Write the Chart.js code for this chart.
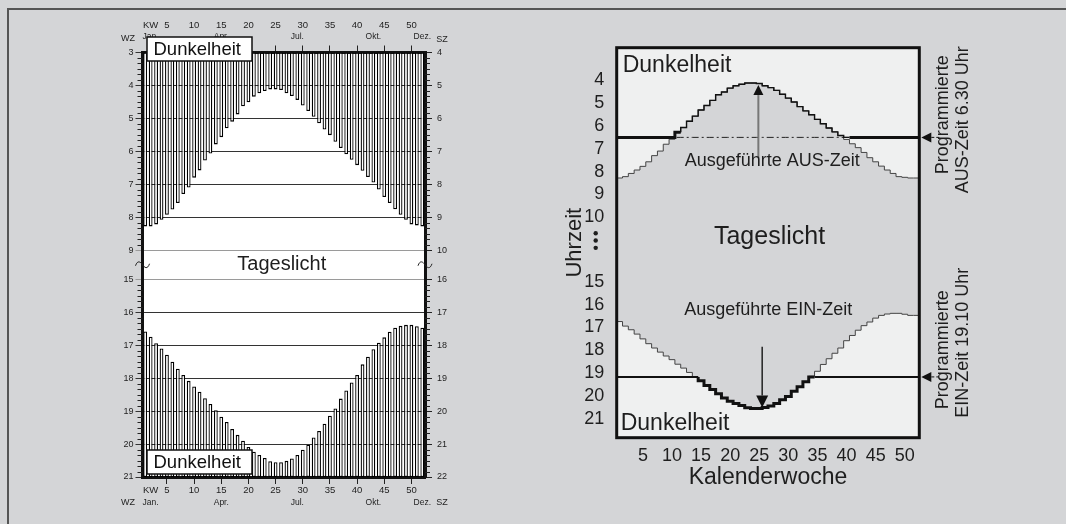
<!DOCTYPE html>
<html>
<head>
<meta charset="utf-8">
<script src="https://cdn.jsdelivr.net/npm/chart.js@4.4.1/dist/chart.umd.min.js"></script>
<style>
  html, body { margin: 0; padding: 0; overflow: hidden; }
  body { width: 1066px; height: 524px; background: #d4d5d7; position: relative; overflow: hidden; }
  #frameTop { position: absolute; left: 7px; top: 8px; width: 1059px; height: 0; border-top: 2px solid #555; }
  #frameLeft { position: absolute; left: 7px; top: 8px; width: 0; height: 516px; border-left: 2px solid #555; }
  .panel { position: absolute; }
  #left { left: 90px; top: 10px; width: 380px; height: 510px; }
  #right { left: 560px; top: 20px; width: 430px; height: 480px; }
</style>
</head>
<body>
<div id="frameTop"></div>
<div id="frameLeft"></div>
<div class="panel" id="left"><canvas id="sunChart"></canvas></div>
<div class="panel" id="right"><canvas id="timerChart"></canvas></div>

<script>
// Kalenderwochen und Sonnenzeiten (Winterzeit, Stunden als Dezimalzahl)
const weeks = [1,2,3,4,5,6,7,8,9,10,11,12,13,14,15,16,17,18,19,20,21,22,23,24,25,26,
  27,28,29,30,31,32,33,34,35,36,37,38,39,40,41,42,43,44,45,46,47,48,49,50,51,52];
const sunrise = [8.28,8.28,8.22,8.08,7.93,7.77,7.57,7.30,7.10,6.80,6.58,6.28,6.07,5.79,5.57,5.30,
  5.10,4.88,4.63,4.51,4.34,4.24,4.17,4.12,4.12,4.14,4.24,4.32,4.44,4.61,4.78,4.95,5.15,5.34,5.51,
  5.71,5.90,6.09,6.26,6.42,6.59,6.78,6.95,7.16,7.39,7.57,7.76,7.93,8.08,8.22,8.25,8.28];
const sunset = [16.58,16.74,16.94,17.10,17.29,17.50,17.71,17.90,18.08,18.25,18.41,18.61,18.78,18.97,
  19.17,19.33,19.54,19.72,19.90,20.09,20.23,20.33,20.42,20.52,20.55,20.55,20.51,20.44,20.33,20.17,
  20.02,19.80,19.60,19.38,19.14,18.92,18.62,18.37,18.13,17.90,17.58,17.35,17.12,16.92,16.76,16.59,
  16.47,16.41,16.38,16.38,16.42,16.47];

// Achsenbeschriftungen
const hoursLeft = [3,4,5,6,7,8,9,15,16,17,18,19,20,21];      // WZ
const hoursRight = [4,5,6,7,8,9,10,15,16,17,18,19,20,21];    // rechtes Diagramm
const weekTicks = [5,10,15,20,25,30,35,40,45,50];
const months = ['Jan.','Apr.','Jul.','Okt.','Dez.'];
const monthWeeks = [2,15,29,43,52];

// Programmierte Schaltzeiten
const progAus = 6.5;          // 6.30 Uhr
const progEin = 19 + 10/60;   // 19.10 Uhr
const progAusWeeks = weeks.map(() => progAus);
const execAus = sunrise.map(v => Math.min(v, progAus));
const execEin = sunset.map(v => Math.max(v, progEin));

// Achsenunterbrechung zwischen 9/10 und 15 Uhr
const uL = h => h <= 12 ? h : h - 5.11;
const uR = h => h <= 12 ? h : h - 2.17;

const FONT = '"Liberation Sans", Arial, Helvetica, sans-serif';
Chart.defaults.font.family = FONT;
Chart.defaults.color = '#1e1e1e';
Chart.defaults.animation = false;
Chart.defaults.plugins.legend.display = false;
Chart.defaults.plugins.tooltip.enabled = false;

const weekLabel = i => weeks[i] === 2 ? 'KW' : (weekTicks.includes(weeks[i]) ? String(weeks[i]) : '');
const monthLabel = i => { const k = monthWeeks.indexOf(weeks[i]); return k >= 0 ? months[k] : ''; };
const tickColor = c => weekTicks.includes(weeks[c.index]) ? '#222' : 'rgba(0,0,0,0)';

// ---------- linkes Diagramm: Balken ----------
const leftDeco = {
  id: 'leftDeco',
  beforeDraw(chart) {
    const { ctx, chartArea: a } = chart;
    ctx.save();
    ctx.fillStyle = '#fff';
    ctx.fillRect(a.left, a.top, a.right - a.left, a.bottom - a.top);
    ctx.restore();
  },
  afterDraw(chart) {
    const { ctx, chartArea: a } = chart;
    const y = chart.scales.y;
    ctx.save();
    // 10-Minuten-Striche
    ctx.strokeStyle = '#222';
    ctx.lineWidth = 1;
    ctx.beginPath();
    [[3, 9], [15, 21]].forEach(([h0, h1]) => {
      for (let m = h0 * 6 + 1; m < h1 * 6; m++) {
        if (m % 6 === 0) continue;
        const py = Math.round(y.getPixelForValue(uL(m / 6))) + 0.5;
        ctx.moveTo(a.left - 5, py); ctx.lineTo(a.left, py);
        ctx.moveTo(a.right, py); ctx.lineTo(a.right + 5, py);
      }
    });
    ctx.stroke();

    // Unterbrechung
    const yb = (y.getPixelForValue(uL(9)) + y.getPixelForValue(uL(15))) / 2;
    [a.left, a.right].forEach(x => {
      ctx.beginPath();
      ctx.moveTo(x - 7, yb + 1);
      ctx.bezierCurveTo(x - 5, yb - 5, x - 2, yb - 3, x, yb);
      ctx.bezierCurveTo(x + 2, yb + 3, x + 5, yb + 5, x + 7, yb - 1);
      ctx.stroke();
    });

    ctx.fillStyle = '#1e1e1e';
    ctx.textAlign = 'center';
    ctx.textBaseline = 'middle';
    ctx.font = '9px ' + FONT;
    ctx.fillText('WZ', a.left - 14.5, a.top - 14);
    ctx.fillText('SZ', a.right + 17, a.top - 13);
    ctx.fillText('WZ', a.left - 14.5, a.bottom + 26);
    ctx.fillText('SZ', a.right + 17, a.bottom + 26);

    ctx.font = '20px ' + FONT;
    ctx.fillText('Tageslicht', (a.left + a.right) / 2 - 2, yb);

    [a.top - 15.5, a.bottom - 27].forEach(by => {
      ctx.fillStyle = '#fff';
      ctx.fillRect(a.left + 4.5, by, 105, 24);
      ctx.strokeStyle = '#111';
      ctx.lineWidth = 1.5;
      ctx.strokeRect(a.left + 4.5, by, 105, 24);
      ctx.fillStyle = '#111';
      ctx.font = '18.5px ' + FONT;
      ctx.textAlign = 'left';
      ctx.fillText('Dunkelheit', a.left + 11, by + 12.5);
    });
    ctx.restore();
  }
};

const barStyle = {
  backgroundColor: '#fff',
  borderColor: '#000',
  borderWidth: 1.3,
  borderSkipped: false,
  barPercentage: 0.7,
  categoryPercentage: 1,
  grouped: false
};

new Chart(document.getElementById('sunChart'), {
  type: 'bar',
  data: {
    labels: weeks.map(String),
    datasets: [
      Object.assign({ label: 'Dunkelheit morgens', data: sunrise.map(v => [uL(3), uL(v)]) }, barStyle),
      Object.assign({ label: 'Dunkelheit abends', data: sunset.map(v => [uL(v), uL(21)]) }, barStyle)
    ]
  },
  options: {
    responsive: true,
    maintainAspectRatio: false,
    layout: { padding: { left: 12.5, right: 5, top: 10.5, bottom: 11 } },
    scales: {
      x: {
        type: 'category', position: 'bottom', weight: 0, offset: true, z: 1,
        grid: { offset: false, drawOnChartArea: false, drawTicks: true, tickLength: 7, color: tickColor },
        border: { display: true, width: 3, color: '#111' },
        ticks: { autoSkip: false, maxRotation: 0, padding: 1, font: { size: 9.5 }, callback: (v, i) => weekLabel(i) },
        afterFit: s => { s.height = 20; }
      },
      xm: {
        type: 'category', position: 'bottom', weight: 1, offset: true,
        grid: { display: false, drawTicks: false }, border: { display: false },
        ticks: { autoSkip: false, maxRotation: 0, padding: 1, font: { size: 8.5 }, callback: (v, i) => monthLabel(i) },
        afterFit: s => { s.height = 12; }
      },
      xt: {
        type: 'category', position: 'top', weight: 0, offset: true, z: 1,
        grid: { offset: false, drawOnChartArea: false, drawTicks: true, tickLength: 7, color: tickColor },
        border: { display: true, width: 3, color: '#111' },
        ticks: { autoSkip: false, maxRotation: 0, padding: 4, font: { size: 8.5 }, callback: (v, i) => monthLabel(i) },
        afterFit: s => { s.height = 20; }
      },
      xtw: {
        type: 'category', position: 'top', weight: 1, offset: true,
        grid: { display: false, drawTicks: false }, border: { display: false },
        ticks: { autoSkip: false, maxRotation: 0, padding: 1, font: { size: 9.5 }, callback: (v, i) => weekLabel(i) },
        afterFit: s => { s.height = 12; }
      },
      y: {
        type: 'linear', position: 'left', reverse: true, min: uL(3), max: uL(21), z: 1,
        afterBuildTicks: s => { s.ticks = hoursLeft.map(h => ({ value: uL(h) })); },
        ticks: { padding: 2, font: { size: 9 }, callback: (v, i) => hoursLeft[i] },
        grid: {
          drawTicks: true, tickLength: 7, lineWidth: 1,
          color: c => (hoursLeft[c.index] === 9 || hoursLeft[c.index] === 15) ? '#9a9a9a' : '#333'
        },
        border: { width: 3, color: '#111' },
        afterFit: s => { s.width = 40; }
      },
      y2: {
        type: 'linear', position: 'right', reverse: true, min: uL(3), max: uL(21), z: 1,
        afterBuildTicks: s => { s.ticks = hoursLeft.map(h => ({ value: uL(h) })); },
        ticks: { padding: 5, font: { size: 9 }, callback: (v, i) => hoursLeft[i] + 1 },
        grid: { drawOnChartArea: false, drawTicks: true, tickLength: 7, color: '#222' },
        border: { width: 3, color: '#111' },
        afterFit: s => { s.width = 40; }
      }
    }
  },
  plugins: [leftDeco]
});

// ---------- rechtes Diagramm: Schaltzeiten ----------
const step = arr => weeks.map((w, i) => ({ x: w - 0.5, y: uR(arr[i]) }))
  .concat([{ x: weeks[weeks.length - 1] + 0.5, y: uR(arr[arr.length - 1]) }]);

const midWeek = (arr, val) => {
  const ws = weeks.filter((w, i) => arr[i] === val);
  return ws.reduce((s, w) => s + w, 0) / ws.length;
};

function arrow(ctx, x, y0, y1, color, width, head, half) {
  const d = Math.sign(y1 - y0);
  ctx.strokeStyle = color;
  ctx.lineWidth = width;
  ctx.beginPath();
  ctx.moveTo(x, y0);
  ctx.lineTo(x, y1 - d * head);
  ctx.stroke();
  ctx.fillStyle = '#111';
  ctx.beginPath();
  ctx.moveTo(x, y1);
  ctx.lineTo(x - half, y1 - d * head);
  ctx.lineTo(x + half, y1 - d * head);
  ctx.closePath();
  ctx.fill();
}

function vtext(ctx, text, cx, cy) {
  ctx.save();
  ctx.translate(cx, cy);
  ctx.rotate(-Math.PI / 2);
  ctx.fillText(text, 0, 0);
  ctx.restore();
}

const rightDeco = {
  id: 'rightDeco',
  beforeDraw(chart) {
    const { ctx, chartArea: a } = chart;
    ctx.save();
    ctx.fillStyle = '#eff0f0';
    ctx.fillRect(a.left, a.top, a.right - a.left, a.bottom - a.top);
    ctx.restore();
  },
  afterDatasetsDraw(chart) {
    const { ctx } = chart;
    const { x, y } = chart.scales;
    const minRise = Math.min(...sunrise);
    const maxSet = Math.max(...sunset);
    ctx.save();
    arrow(ctx, x.getPixelForValue(midWeek(sunrise, minRise)) + 2, y.getPixelForValue(uR(7.38)),
      y.getPixelForValue(uR(minRise)) + 2, '#777', 2, 10, 5);
    arrow(ctx, x.getPixelForValue(midWeek(sunset, maxSet)), y.getPixelForValue(uR(17.85)),
      y.getPixelForValue(uR(maxSet)) - 1, '#222', 1.5, 12, 6);
    ctx.restore();
  },
  afterDraw(chart) {
    const { ctx, chartArea: a } = chart;
    const y = chart.scales.y;
    ctx.save();
    ctx.strokeStyle = '#111';
    ctx.lineWidth = 3;
    ctx.strokeRect(a.left, a.top, a.right - a.left, a.bottom - a.top);

    // Pfeile der programmierten Zeiten
    [progAus, progEin].forEach(h => {
      const py = y.getPixelForValue(uR(h));
      ctx.fillStyle = '#111';
      ctx.beginPath();
      ctx.moveTo(a.right + 2, py);
      ctx.lineTo(a.right + 12, py - 5);
      ctx.lineTo(a.right + 12, py + 5);
      ctx.closePath();
      ctx.fill();
      ctx.lineWidth = 1;
      ctx.setLineDash([3, 2]);
      ctx.beginPath();
      ctx.moveTo(a.right + 12, py);
      ctx.lineTo(a.right + 21, py);
      ctx.stroke();
      ctx.setLineDash([]);
    });

    ctx.fillStyle = '#1e1e1e';
    ctx.textBaseline = 'middle';
    ctx.textAlign = 'center';
    ctx.font = '18px ' + FONT;
    vtext(ctx, 'Programmierte', a.right + 24.2, a.top + 67);
    vtext(ctx, 'AUS-Zeit 6.30 Uhr', a.right + 44.2, a.top + 72);
    vtext(ctx, 'Programmierte', a.right + 24.2, a.top + 302);
    vtext(ctx, 'EIN-Zeit 19.10 Uhr', a.right + 44.2, a.top + 295);

    ctx.font = '18px ' + FONT;
    ctx.fillText('Ausgeführte AUS-Zeit', a.left + 155.5, a.top + 113.5);
    ctx.fillText('Ausgeführte EIN-Zeit', a.left + 151.5, a.top + 262.5);

    ctx.font = '25px ' + FONT;
    ctx.fillText('Tageslicht', (a.left + a.right) / 2 + 1.5, a.top + 189);

    ctx.textAlign = 'left';
    ctx.font = '23px ' + FONT;
    ctx.fillText('Dunkelheit', a.left + 6, a.top + 18);
    ctx.fillText('Dunkelheit', a.left + 4, a.bottom - 14);

    // Punkte der Achsenunterbrechung
    const yd = y.getPixelForValue(uR(10)) + 23.3;
    [-7.3, 0, 7.3].forEach(dy => {
      ctx.beginPath();
      ctx.arc(a.left - 21, yd + dy, 2.2, 0, Math.PI * 2);
      ctx.fill();
    });
    ctx.restore();
  }
};

const lineBase = { stepped: 'after', pointRadius: 0, fill: false };

new Chart(document.getElementById('timerChart'), {
  type: 'line',
  data: {
    datasets: [
      Object.assign({}, lineBase, { label: 'Sonnenaufgang', data: step(sunrise), borderColor: '#444', borderWidth: 1,
        fill: '+1', backgroundColor: '#d4d5d7', order: 5 }),
      Object.assign({}, lineBase, { label: 'Sonnenuntergang', data: step(sunset), borderColor: '#444', borderWidth: 1, order: 5 }),
      Object.assign({}, lineBase, { label: 'Programmierte AUS-Zeit', data: step(progAusWeeks), borderColor: '#222',
        borderWidth: 1, borderDash: [7, 3, 2, 3], order: 4 }),
      Object.assign({}, lineBase, { label: 'Ausgeführte AUS-Zeit', data: step(execAus), borderColor: '#111', borderWidth: 1.4,
        segment: { borderWidth: c => c.p0.parsed.y === uR(progAus) ? 3 : 1.4 }, order: 1 }),
      Object.assign({}, lineBase, { label: 'Ausgeführte EIN-Zeit', data: step(execEin), borderColor: '#111', borderWidth: 3,
        segment: { borderWidth: c => c.p0.parsed.y === uR(progEin) ? 2 : 3 }, order: 1 })
    ]
  },
  options: {
    responsive: true,
    maintainAspectRatio: false,
    layout: { padding: { left: 0, right: 70.7, top: 27.7, bottom: 0 } },
    plugins: { filler: { drawTime: 'beforeDatasetsDraw' } },
    scales: {
      x: {
        type: 'linear', min: 0.5, max: 52.5,
        afterBuildTicks: s => { s.ticks = weekTicks.map(v => ({ value: v })); },
        grid: { display: false, drawTicks: false }, border: { display: false },
        ticks: { autoSkip: false, maxRotation: 0, padding: 8, font: { size: 18 }, callback: v => String(v) },
        title: { display: true, text: 'Kalenderwoche', font: { size: 23 }, padding: { top: 0, bottom: 9 } },
        afterFit: s => { s.height = 62.3; }
      },
      y: {
        type: 'linear', reverse: true, min: 2.57, max: 19.66,
        afterBuildTicks: s => { s.ticks = hoursRight.map(h => ({ value: uR(h) })); },
        grid: { display: false, drawTicks: false }, border: { display: false },
        ticks: { padding: 12.5, font: { size: 18 }, callback: (v, i) => String(hoursRight[i]) },
        title: { display: true, text: 'Uhrzeit', font: { size: 22 }, padding: { top: 2, bottom: 0 } },
        afterFit: s => { s.width = 56.7; }
      }
    }
  },
  plugins: [rightDeco]
});
</script>
</body>
</html>
